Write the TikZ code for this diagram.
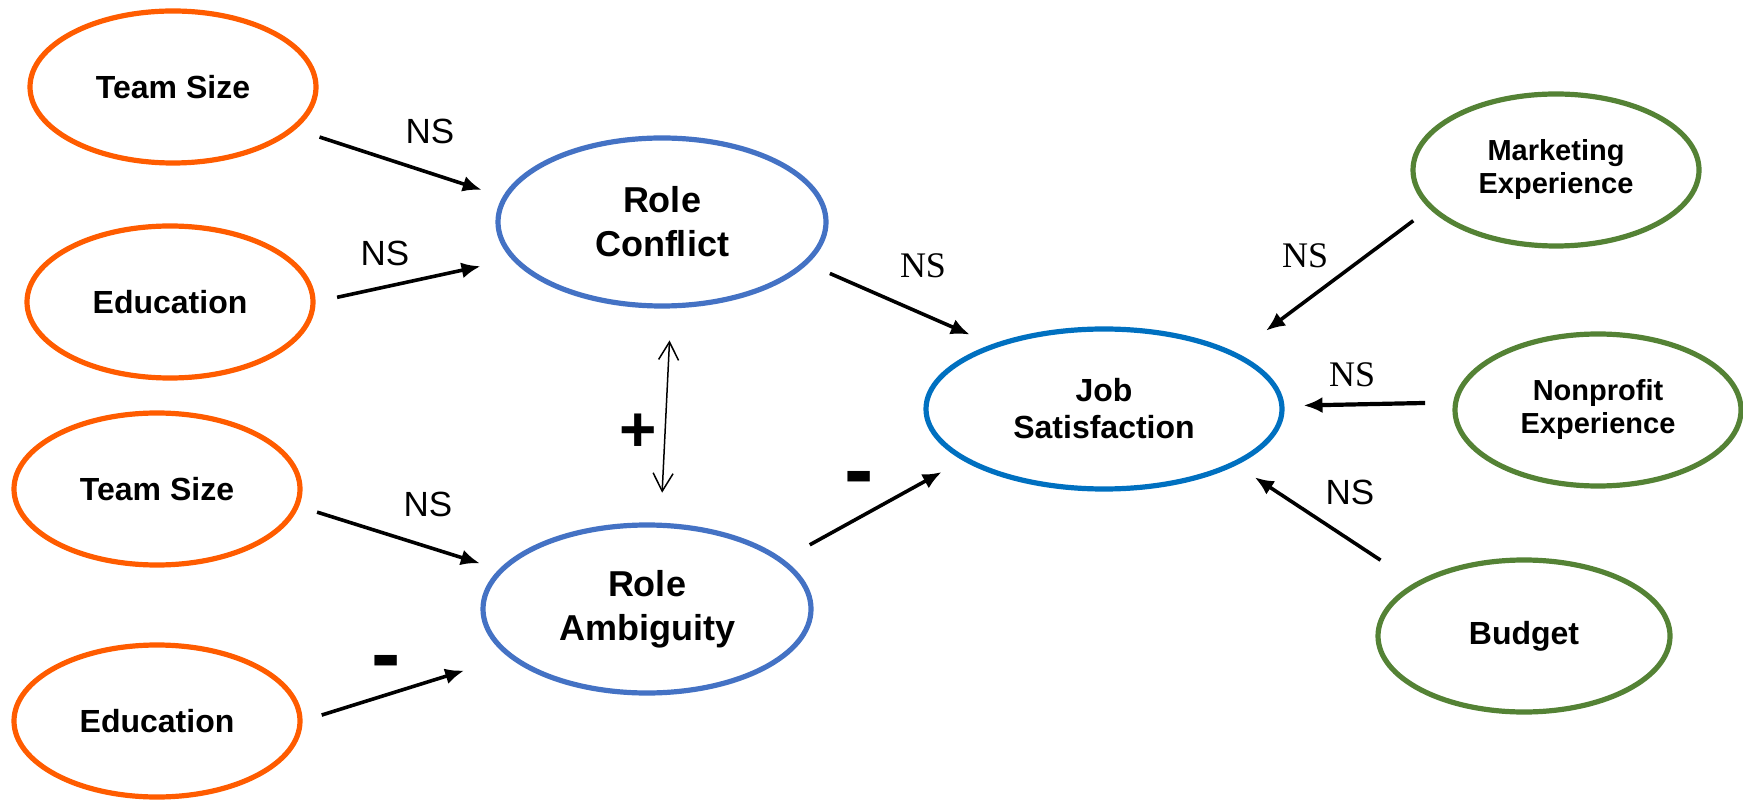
\documentclass[tikz,border=0pt]{standalone}
\usepackage{fontspec}
\setmainfont{Liberation Sans}
\newfontfamily\timesfont{Liberation Serif}
\usetikzlibrary{shapes.geometric,arrows.meta}
\definecolor{ctrlorange}{HTML}{FF5C00}
\definecolor{roleblue}{HTML}{4472C4}
\definecolor{jobblue}{HTML}{0070C0}
\definecolor{expgreen}{HTML}{548235}

\begin{document}
\begin{tikzpicture}[x=0.5pt,y=-0.5pt,
    oval/.style={ellipse, draw, line width=2.6pt, inner sep=0pt, align=center},
    ctrl/.style={oval, draw=ctrlorange, minimum width=143pt, minimum height=76pt, font=\bfseries\fontsize{16}{19}\selectfont},
    role/.style={oval, draw=roleblue, minimum width=164pt, minimum height=84pt, font=\bfseries\fontsize{18}{22}\selectfont},
    job/.style={oval, draw=jobblue, minimum width=178pt, minimum height=80pt, font=\bfseries\fontsize{16}{18.5}\selectfont},
    exper/.style={oval, draw=expgreen, minimum width=143pt, minimum height=76pt, font=\bfseries\fontsize{14.5}{16.5}\selectfont},
    link/.style={-{Latex[length=9.5pt,width=8pt]}, line width=1.8pt},
    lab/.style={inner sep=0pt, font=\fontsize{17.5}{20}\selectfont},
    labtm/.style={inner sep=0pt, font=\timesfont\fontsize{18}{20}\selectfont},
    signlab/.style={inner sep=0pt, anchor=north, font=\bfseries\fontsize{#1}{#1}\selectfont}]
  \useasboundingbox (0,0) rectangle (1743,801); % 画布大小
  % 左侧控制变量
  \node (ts1) at (173,87)[ctrl] {Team Size};
  \node (edu1) at (170,302)[ctrl] {Education};
  \node (ts2) at (157,489)[ctrl] {Team Size};
  \node (edu2) at (157,721)[ctrl] {Education};
  % 中间
  \node (rc) at (662,222)[role] {Role\\Conflict};
  \node (ra) at (647,609)[role] {Role\\Ambiguity};
  \node (js) at (1104,409)[job] {Job\\Satisfaction};
  % 右侧
  \node (me) at (1556,170)[exper] {Marketing\\Experience};
  \node (ne) at (1598,410)[exper] {Nonprofit\\Experience};
  \node (bud) at (1524,636)[exper, minimum width=146pt, font=\bfseries\fontsize{16}{19}\selectfont] {Budget};

  \draw[link, shorten <=12.5pt, shorten >=11pt] (ts1.-19.5) -- (rc.171);
  \draw[link, shorten <=11pt, shorten >=16pt] (edu1.0) -- (rc.194);
  \draw[link, shorten <=9.5pt, shorten >=10pt] (ts2.-7.5) -- (ra.165);
  \draw[link, shorten <=10pt, shorten >=23pt] (edu2.0) -- (ra.199.6);
  \draw[{Straight Barb[length=9pt,width=10pt]}-{Straight Barb[length=9pt,width=10pt]}, line width=0.75pt, shorten <=16pt, shorten >=15pt] (rc.-84.7) -- (ra.81.1); % 双向箭头
  \draw[link, shorten <=12pt, shorten >=12pt] (rc.-16.8) -- (js.150.3);
  \draw[link, shorten <=15pt, shorten >=12pt] (ra.20.5) -- (js.200.75);
  \draw[link, shorten <=10pt, shorten >=18.5pt] (me.197.8) -- (js.23.3);
  \draw[link, line width=2.1pt, shorten <=14pt, shorten >=9.5pt] (ne.177.6) -- (js.1.7);
  \draw[link, shorten <=20.5pt, shorten >=11pt] (bud.154.1) -- (js.-23.3);

  % 路径标注
  \node (ns1) at (430,131)[lab] {NS};
  \node (ns2) at (385,253)[lab] {NS};
  \node (ns3) at (428,504)[lab] {NS};
  \node (neg1) at (386,655)[signlab=44] {-};
  \node (pos) at (638,414)[signlab=32] {+};
  \node (neg2) at (859,471)[signlab=44] {-};
  \node (ns4) at (923,266)[labtm] {NS};
  \node (ns5) at (1305,256)[labtm] {NS};
  \node (ns6) at (1352,375)[labtm] {NS};
  \node (ns7) at (1350,492)[lab] {NS};
\end{tikzpicture}
\end{document}
